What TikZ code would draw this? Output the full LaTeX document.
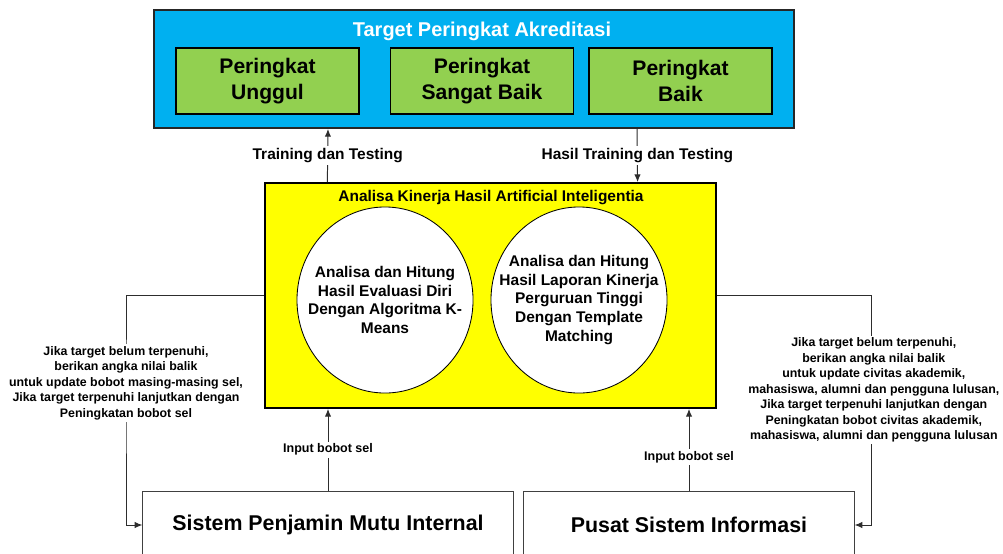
\documentclass[tikz,border=0pt]{standalone}
\usepackage{fontspec}
\setmainfont{Liberation Sans}
\usepackage{tikz}
\usetikzlibrary{arrows.meta, positioning, backgrounds, shapes.geometric, calc}
\definecolor{targetblue}{RGB}{0,176,240}
\definecolor{rankgreen}{RGB}{146,208,80}
\definecolor{aiyellow}{RGB}{255,255,0}
\definecolor{linegray}{RGB}{45,45,45}

\begin{document}
\begin{tikzpicture}[
    x=0.025cm, y=-0.025cm,
    every node/.style={font=\bfseries},
    targetbox/.style={rectangle, draw=black!85, fill=targetblue, line width=1.3pt,
                      minimum width=16cm, minimum height=2.95cm, inner sep=0pt},
    rankbox/.style={rectangle, draw=black, fill=rankgreen, line width=1.1pt,
                    minimum width=4.575cm, minimum height=1.65cm, inner sep=0pt,
                    align=center, font=\fontsize{15}{18.5}\selectfont\bfseries},
    aibox/.style={rectangle, draw=black, fill=aiyellow, line width=1.2pt,
                  minimum width=11.275cm, minimum height=5.625cm, inner sep=0pt},
    aicircle/.style={ellipse, draw=black, fill=white, line width=0.6pt,
                     minimum width=4.4cm, minimum height=4.65cm, inner sep=0pt},
    circtext/.style={align=center, inner sep=0pt,
                     font=\fontsize{11}{13.4}\selectfont\bfseries},
    sysbox/.style={rectangle, draw=black!75, fill=white, line width=0.7pt,
                   minimum height=1.7cm, inner sep=0pt,
                   font=\fontsize{15.2}{18}\selectfont\bfseries},
    arr/.style={-{Latex[length=5.5pt, width=4.5pt]}, draw=linegray, line width=0.7pt},
    lbl/.style={fill=white, inner sep=1.5pt, font=\fontsize{11}{13}\selectfont\bfseries},
    smalllbl/.style={fill=white, inner sep=1.5pt, font=\fontsize{8.9}{10.5}\selectfont\bfseries},
    fblbl/.style={fill=white, align=center, inner sep=1.5pt,
                  font=\fontsize{8.8}{11}\selectfont\bfseries}
]
\clip (0,0) rectangle (1003,553);

% --- Target peringkat ---
\node[targetbox] (target) at (474,69) {};
\node[text=white, font=\fontsize{14.2}{16}\selectfont\bfseries] (targettitle) at (482,31)
    {Target Peringkat Akreditasi};
\node[rankbox] (unggul) at (267.5,81) {Peringkat\\Unggul};
\node[rankbox] (sangatbaik) at (482,81) {Peringkat\\Sangat Baik};
\node[rankbox] (baik) at (680.5,81) {Peringkat\\Baik};

% --- Analisa kinerja AI ---
\node[aibox] (kinerja) at (490.5,295.5) {};
\node[font=\fontsize{11}{13}\selectfont\bfseries] (kinerjatitle) at (491,197.5)
    {Analisa Kinerja Hasil Artificial Inteligentia};
\node[aicircle] (kmeans) at (385,300) {};
\node[circtext] (kmeanstxt) at (kmeans) {Analisa dan Hitung\\Hasil Evaluasi Diri\\Dengan Algoritma K-\\Means};
\node[aicircle] (template) at (579,300) {};
\node[circtext] (templatetxt) at (template) {Analisa dan Hitung\\Hasil Laporan Kinerja\\Perguruan Tinggi\\Dengan Template\\Matching};

% --- Sistem sumber data ---
\node[sysbox, minimum width=9.25cm] (spmi) at (328,525) {Sistem Penjamin Mutu Internal};
\node[sysbox, minimum width=8.25cm] (psi) at (689,525) {Pusat Sistem Informasi};

% --- Panah ---
\draw[arr] ($(kinerja.north west)!0.1397!(kinerja.north east)$) -- ($(target.south west)!0.2726!(target.south east)$)
    node[lbl, midway] {Training dan Testing};
\draw[arr] ($(target.south west)!0.7539!(target.south east)$) -- ($(kinerja.north west)!0.8248!(kinerja.north east)$)
    node[lbl, midway] {Hasil Training dan Testing};
\draw[arr] (spmi.north) -- (spmi.north |- kinerja.south)
    node[smalllbl, midway] {Input bobot sel};
\draw[arr] (psi.north) -- (psi.north |- kinerja.south)
    node[smalllbl, pos=0.41] {Input bobot sel};

% --- Umpan balik ---
\coordinate (fbl) at (126,383);
\coordinate (fbr) at (871,390);
\draw[arr] (kinerja.west) -| (fbl) node[fblbl] {Jika target belum terpenuhi,\\berikan angka nilai balik\\untuk update bobot masing-masing sel,\\Jika target terpenuhi lanjutkan dengan\\Peningkatan bobot sel}
    |- (spmi.west);
\draw[arr] (kinerja.east) -| (fbr) node[fblbl, xshift=2pt] {Jika target belum terpenuhi,\\berikan angka nilai balik\\untuk update civitas akademik,\\mahasiswa, alumni dan pengguna lulusan,\\Jika target terpenuhi lanjutkan dengan\\Peningkatan bobot civitas akademik,\\mahasiswa, alumni dan pengguna lulusan}
    |- (psi.east);
\end{tikzpicture}
\end{document}
